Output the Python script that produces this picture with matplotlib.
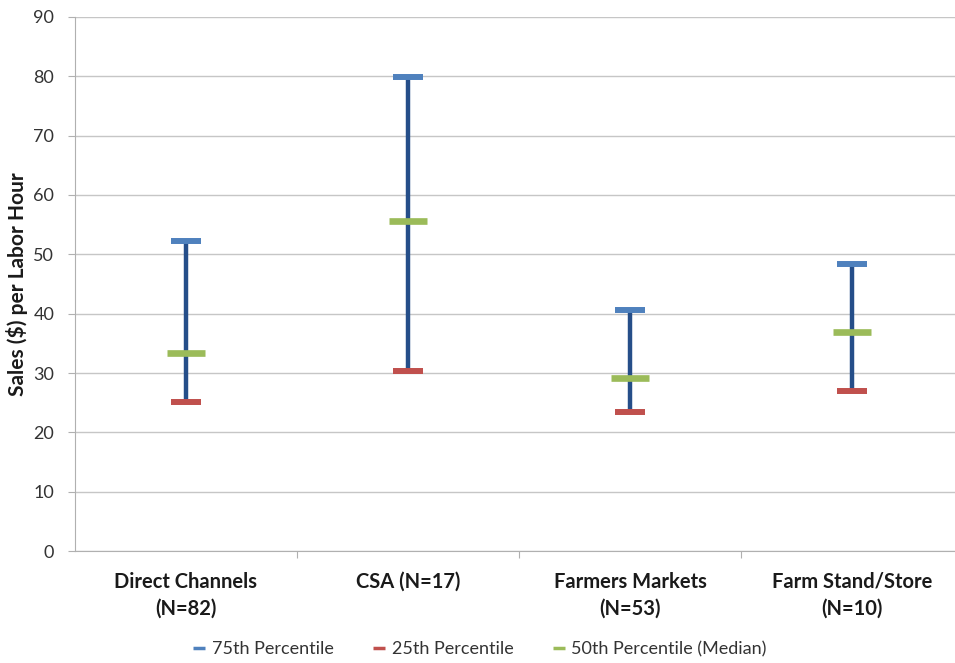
import matplotlib
matplotlib.use("Agg")
import matplotlib.pyplot as plt
from matplotlib.lines import Line2D

plt.rcParams['font.family'] = ['Lato', 'DejaVu Sans']

categories = ["Direct Channels\n(N=82)", "CSA (N=17)", "Farmers Markets\n(N=53)", "Farm Stand/Store\n(N=10)"]
p75 = [52.2, 79.9, 40.6, 48.4]
p25 = [25.1, 30.3, 23.4, 27.0]
p50 = [33.4, 55.6, 29.2, 36.9]

c_line = "#254E89"
c_75 = "#4F81BD"
c_25 = "#C0504D"
c_50 = "#9BBB59"

fig = plt.figure(figsize=(9.55, 6.63), dpi=100)
ax = fig.add_axes([75/955, 112/663, 1 - 75/955, (551-17)/663])

x = list(range(len(categories)))
ax.vlines(x, p25, p75, color=c_line, lw=3.2, zorder=3)
ax.plot(x, p75, ls='none', marker='_', ms=22, mew=4.3, color=c_75, zorder=4)
ax.plot(x, p25, ls='none', marker='_', ms=22, mew=4.3, color=c_25, zorder=4)
ax.plot(x, p50, ls='none', marker='_', ms=27, mew=4.8, color=c_50, zorder=4)

ax.set_ylim(0, 90)
ax.set_xlim(-0.5, 3.464)
ax.set_yticks(range(0, 91, 10))
ax.yaxis.grid(True, color="#c6c6c6", lw=1)
ax.set_axisbelow(True)

ax.set_xticks([0.5, 1.5, 2.5], minor=False)
ax.set_xticklabels([])
ax.set_xticks(x, minor=True)
ax.set_xticklabels(categories, minor=True, fontsize=14.5, fontweight='bold', color="#1a1a1a",
                   linespacing=1.45)
ax.tick_params(axis='x', which='minor', length=0, pad=15)
ax.tick_params(axis='x', which='major', length=5, color="#b0b0b0", direction='out')
ax.tick_params(axis='y', length=5, color="#b0b0b0", labelsize=13, labelcolor="#333333", pad=10)

for s in ['top', 'right']:
    ax.spines[s].set_visible(False)
for s in ['left', 'bottom']:
    ax.spines[s].set_color("#b0b0b0")

ax.set_ylabel("Sales ($) per Labor Hour", fontsize=15, fontweight='bold', color="#1a1a1a")
ax.yaxis.set_label_coords(-0.053, 0.5)

handles = [Line2D([], [], ls='none', marker='_', ms=9, mew=2.5, color=c) for c in (c_75, c_25, c_50)]
fig.legend(handles, ["75th Percentile", "25th Percentile", "50th Percentile (Median)"],
           loc='center', bbox_to_anchor=(0.503, 0.021), ncol=3, frameon=False,
           fontsize=13, handlelength=0.6, handletextpad=0.4, columnspacing=2.2,
           labelcolor="#333333")

fig.savefig("out.png", dpi=100)
